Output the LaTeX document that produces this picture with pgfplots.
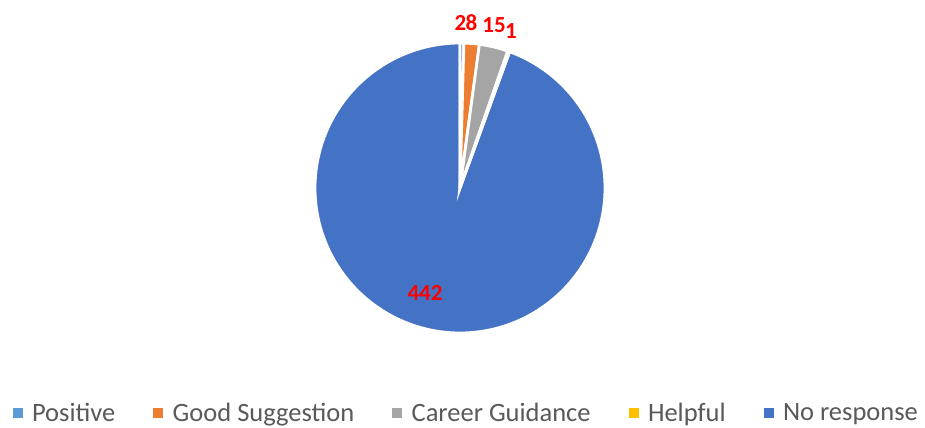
\documentclass[border=0pt]{standalone}
\usepackage{pgfplots}
\pgfplotsset{compat=1.18}
\usepackage{pgfplotstable}
\usepackage{fontspec}
\setmainfont{Carlito}
\definecolor{cPos}{HTML}{5B9BD5}
\definecolor{cGood}{HTML}{ED7D31}
\definecolor{cCar}{HTML}{A5A5A5}
\definecolor{cHelp}{HTML}{FFC000}
\definecolor{cNo}{HTML}{4472C4}
\definecolor{legtext}{HTML}{595959}
\definecolor{labred}{HTML}{FF0000}

\pgfplotstableread{
label value
Positive 2
Good 8
Career 15
Helpful 1
None 442
}\piedata

\begin{document}
\begin{tikzpicture}
\pgfplotstablegetelem{0}{value}\of\piedata \let\vA\pgfplotsretval
\pgfplotstablegetelem{1}{value}\of\piedata \let\vB\pgfplotsretval
\pgfplotstablegetelem{2}{value}\of\piedata \let\vC\pgfplotsretval
\pgfplotstablegetelem{3}{value}\of\piedata \let\vD\pgfplotsretval
\pgfplotstablegetelem{4}{value}\of\piedata \let\vE\pgfplotsretval
\pgfmathsetmacro\tot{\vA+\vB+\vC+\vD+\vE}
\pgfmathsetmacro\aA{90}
\pgfmathsetmacro\aB{\aA-(\vA/\tot)*360}
\pgfmathsetmacro\aC{\aB-(\vB/\tot)*360}
\pgfmathsetmacro\aD{\aC-(\vC/\tot)*360}
\pgfmathsetmacro\aE{\aD-(\vD/\tot)*360}
\pgfmathsetmacro\aF{\aE-(\vE/\tot)*360}
\begin{axis}[
  width=925bp, height=428bp, scale only axis,
  xmin=0, xmax=925, ymin=0, ymax=428,
  hide axis, clip=false,
  legend columns=5,
  legend style={draw=none, fill=none, at={(0.503,0.036)}, anchor=center,
    font=\fontsize{26.5bp}{30bp}\selectfont, text=legtext,
    /tikz/every node/.append style={inner sep=0pt},
    /tikz/column sep=10bp,
    /tikz/every even column/.append style={column sep=38bp}},
]
\edef\doplot{\noexpand\addplot[forget plot, fill=cNo, draw=white, line width=2.8bp, domain=\aF:\aE, samples=240]}
\doplot ({460+145*cos(x)},{240+145*sin(x)}) -- (axis cs:460,240) -- cycle;
\edef\doplot{\noexpand\addplot[forget plot, fill=cPos, draw=white, line width=2.8bp, domain=\aB:\aA, samples=6]}
\doplot ({460+145*cos(x)},{240+145*sin(x)}) -- (axis cs:460,240) -- cycle;
\edef\doplot{\noexpand\addplot[forget plot, fill=cGood, draw=white, line width=2.8bp, domain=\aC:\aB, samples=10]}
\doplot ({460+145*cos(x)},{240+145*sin(x)}) -- (axis cs:460,240) -- cycle;
\edef\doplot{\noexpand\addplot[forget plot, fill=cCar, draw=white, line width=2.8bp, domain=\aD:\aC, samples=16]}
\doplot ({460+145*cos(x)},{240+145*sin(x)}) -- (axis cs:460,240) -- cycle;
\edef\doplot{\noexpand\addplot[forget plot, fill=cHelp, draw=white, line width=2.8bp, domain=\aE:\aD, samples=4]}
\doplot ({460+145*cos(x)},{240+145*sin(x)}) -- (axis cs:460,240) -- cycle;

\addlegendimage{legend image code/.code={\fill[cPos] (0bp,-4.5bp) rectangle (9bp,4.5bp);}}
\addlegendentry{Positive}
\addlegendimage{legend image code/.code={\fill[cGood] (0bp,-4.5bp) rectangle (9bp,4.5bp);}}
\addlegendentry{Good Suggestion}
\addlegendimage{legend image code/.code={\fill[cCar] (0bp,-4.5bp) rectangle (9bp,4.5bp);}}
\addlegendentry{Career Guidance}
\addlegendimage{legend image code/.code={\fill[cHelp] (0bp,-4.5bp) rectangle (9bp,4.5bp);}}
\addlegendentry{Helpful}
\addlegendimage{legend image code/.code={\fill[cNo] (0bp,-4.5bp) rectangle (9bp,4.5bp);}}
\addlegendentry{No response}

\tikzset{lab/.style={text=labred, font=\fontsize{23bp}{26bp}\selectfont\bfseries, inner sep=0pt}}
\node[lab] at (axis cs:460.5,405) {2};
\node[lab] at (axis cs:471.5,405) {8};
\node[lab] at (axis cs:494,402.5) {15};
\node[lab] at (axis cs:511,397) {1};
\node[lab] at (axis cs:425,135.5) {442};
\end{axis}
\pgfresetboundingbox
\useasboundingbox (0,0) rectangle (925bp,428bp);
\end{tikzpicture}
\end{document}
